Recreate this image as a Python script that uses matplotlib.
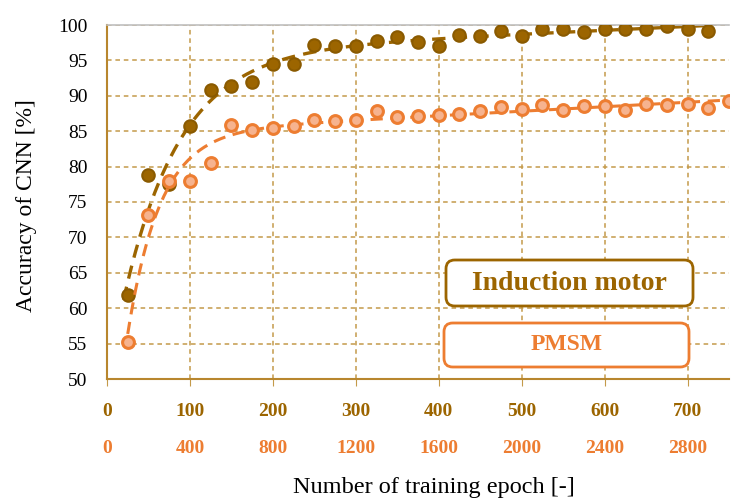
"""Recreate the CNN accuracy vs training epoch chart (induction motor vs PMSM)."""
import numpy as np
import matplotlib
matplotlib.use("Agg")
import matplotlib.pyplot as plt
from matplotlib.patches import FancyBboxPatch

# Induction motor: epochs on the brown axis
im_epoch = [25, 50, 75, 100, 125, 150, 175, 200, 225, 250, 275, 300, 325, 350,
            375, 400, 425, 450, 475, 500, 525, 550, 575, 600, 625, 650, 675,
            700, 725]
im_acc = [61.9, 78.8, 77.6, 85.7, 90.8, 91.4, 92.0, 94.5, 94.5, 97.2, 97.1,
          97.0, 97.7, 98.3, 97.6, 97.0, 98.6, 98.4, 99.1, 98.5, 99.4, 99.5,
          99.0, 99.5, 99.4, 99.4, 99.8, 99.5, 99.2]

# PMSM: epochs on the orange axis
pm_epoch = [100, 200, 300, 400, 500, 600, 700, 800, 900, 1000, 1100, 1200,
            1300, 1400, 1500, 1600, 1700, 1800, 1900, 2000, 2100, 2200, 2300,
            2400, 2500, 2600, 2700, 2800, 2900, 3000]
pm_acc = [55.2, 73.1, 77.9, 77.9, 80.5, 85.9, 85.2, 85.5, 85.7, 86.6, 86.4,
          86.6, 87.8, 87.0, 87.1, 87.3, 87.5, 87.9, 88.4, 88.2, 88.7, 88.0,
          88.5, 88.6, 88.0, 88.8, 88.7, 88.8, 88.3, 89.2]

im_ticks = [0, 100, 200, 300, 400, 500, 600, 700]
pm_ticks = [0, 400, 800, 1200, 1600, 2000, 2400, 2800]
y_ticks = [50, 55, 60, 65, 70, 75, 80, 85, 90, 95, 100]

BROWN = "#9C6500"
ORANGE = "#ED7D31"
GRID = "#C49A4A"
SERIF = "Liberation Serif"
W, H = 734, 500


def trend(x, y, start):
    """Least-squares fit of a + d*x - b*exp(-x/c), c from a grid search."""
    x = np.asarray(x, float)
    y = np.asarray(y, float)
    best = None
    for c in np.linspace(x.max() / 60, x.max() / 2, 400):
        A = np.column_stack([np.ones_like(x), x, -np.exp(-x / c)])
        coef, *_ = np.linalg.lstsq(A, y, rcond=None)
        err = np.sum((A @ coef - y) ** 2)
        if best is None or err < best[0]:
            best = (err, c, coef)
    _, c, coef = best
    xs = np.linspace(start, x.max(), 300)
    ys = coef[0] + coef[1] * xs - coef[2] * np.exp(-xs / c)
    return xs, ys


def label_box(fig, x0, y0, x1, y1, text, color, size):
    """Rounded box given in pixel coordinates from the top-left corner."""
    box = FancyBboxPatch((x0 / W, 1 - y1 / H), (x1 - x0) / W, (y1 - y0) / H,
                         boxstyle="round,pad=0,rounding_size=0.012",
                         transform=fig.transFigure, fc="white", ec=color,
                         lw=2.0, zorder=5, mutation_aspect=W / H)
    fig.add_artist(box)
    fig.text((x0 + x1) / 2 / W, 1 - (y0 + y1) / 2 / H, text, ha="center",
             va="center", fontsize=size, fontweight="bold", color=color,
             zorder=6)


def main():
    plt.rcParams["font.family"] = [SERIF, "DejaVu Serif"]
    fig = plt.figure(figsize=(W / 100, H / 100), dpi=100)
    ax = fig.add_axes([107 / W, 1 - 379 / H, 622 / W, 354 / H])

    ax.set_xlim(0, 750)
    ax.set_ylim(50, 100)
    ax.set_xticks(im_ticks)
    ax.set_yticks(y_ticks)
    ax.grid(True, color=GRID, linestyle=(0, (3, 2.5)), linewidth=1.1)
    ax.set_axisbelow(True)

    for side in ("left", "bottom"):
        ax.spines[side].set_color("#B8862E")
        ax.spines[side].set_linewidth(1.5)
    ax.spines["right"].set_visible(False)
    ax.spines["top"].set_color("#BFBFBF")
    ax.spines["top"].set_linewidth(1.2)

    ax.tick_params(axis="y", length=0, pad=14, labelsize=14, labelcolor="black")
    ax.tick_params(axis="x", length=0, pad=12, labelsize=14, labelcolor=BROWN)
    for lab in ax.get_xticklabels():
        lab.set_fontweight("bold")
    ax.tick_params(axis="x", which="both", top=True, direction="out",
                   length=5, color=GRID, labeltop=False, bottom=False)

    xs, ys = trend(im_epoch, im_acc, 20)
    ax.plot(xs, ys, color=BROWN, linestyle=(0, (4, 2.5)), linewidth=2.4, zorder=2)
    ax.plot(im_epoch, im_acc, linestyle="none", marker="o", markersize=9,
            markerfacecolor=BROWN, markeredgecolor="#8A5A00",
            markeredgewidth=1.5, zorder=3)

    ax2 = ax.twiny()
    ax2.set_xlim(0, 3000)
    ax2.set_xticks(pm_ticks)
    ax2.xaxis.set_ticks_position("bottom")
    ax2.spines["bottom"].set_position(("outward", 32))
    for s in ax2.spines.values():
        s.set_visible(False)
    ax2.tick_params(axis="x", length=0, pad=12, labelsize=14,
                    labelcolor=ORANGE)
    for lab in ax2.get_xticklabels():
        lab.set_fontweight("bold")

    xs, ys = trend(pm_epoch, pm_acc, 100)
    ax2.plot(xs, ys, color=ORANGE, linestyle=(0, (4, 2.5)), linewidth=2.2, zorder=2)
    ax2.plot(pm_epoch, pm_acc, linestyle="none", marker="o", markersize=8.5,
             markerfacecolor="#F6B38F", markeredgecolor=ORANGE,
             markeredgewidth=2.2, zorder=3)

    fig.text(434 / W, 1 - 487 / H, "Number of training epoch [-]",
             ha="center", va="center", fontsize=17.5)
    fig.text(27 / W, 1 - 206 / H, "Accuracy of CNN [%]", ha="center",
             va="center", rotation=90, fontsize=17)

    label_box(fig, 446, 260, 693, 306, "Induction motor", BROWN, 20)
    label_box(fig, 444, 323, 689, 367, "PMSM", ORANGE, 17)

    fig.savefig("out.png", dpi=100)


if __name__ == "__main__":
    main()
